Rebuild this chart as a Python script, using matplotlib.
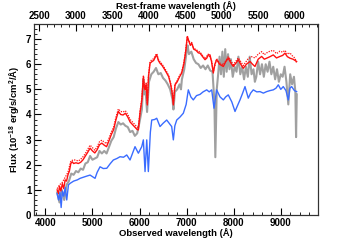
import matplotlib
matplotlib.use("Agg")
import matplotlib.pyplot as plt
from matplotlib.ticker import MultipleLocator

plt.rcParams['font.family'] = ['Liberation Sans', 'DejaVu Sans']
plt.rcParams['font.weight'] = 'bold'
plt.rcParams['mathtext.default'] = 'regular'

Z = 0.55

red_wave = [4250, 4280, 4300, 4330, 4360, 4390, 4420, 4450, 4480, 4510, 4540, 4570, 4600, 4650, 4700,
            4750, 4800, 4850, 4900, 4950, 5000, 5050, 5100, 5150, 5200, 5250, 5300, 5350, 5400, 5450,
            5500, 5550, 5600, 5650, 5700, 5750, 5800, 5850, 5900, 5950, 5975, 6010, 6050, 6083, 6100,
            6117, 6140, 6166, 6190, 6223, 6260, 6300, 6340, 6365, 6400, 6435, 6480, 6530, 6577, 6620,
            6660, 6690, 6718, 6740, 6754, 6800, 6850, 6896, 6940, 6980, 7015, 7050, 7080, 7108, 7150,
            7200, 7250, 7285, 7340, 7391, 7427, 7460, 7497, 7530, 7567, 7600, 7638, 7700, 7780, 7830,
            7885, 7940, 7991, 8050, 8098, 8150, 8204, 8270, 8346, 8400, 8452, 8520, 8594, 8650, 8700,
            8770, 8841, 8910, 8983, 9040, 9089, 9140, 9195, 9260, 9337]
red_flux = [1.00, 0.85, 1.15, 0.95, 1.25, 1.05, 1.40, 1.35, 1.60, 1.75, 2.05, 2.12, 2.05, 2.08, 2.05,
            2.10, 2.20, 2.35, 2.50, 2.66, 2.55, 2.47, 2.60, 2.80, 2.86, 2.78, 2.72, 2.95, 3.20, 3.40,
            3.80, 4.12, 4.00, 3.98, 4.05, 3.90, 3.70, 3.60, 3.50, 3.40, 3.39, 4.06, 4.60, 5.51, 5.10,
            4.98, 5.20, 4.38, 5.50, 6.04, 6.10, 6.15, 6.30, 6.37, 6.15, 6.04, 5.95, 5.80, 5.65, 5.50,
            5.20, 4.90, 4.38, 4.90, 5.18, 5.30, 5.50, 5.65, 6.00, 6.50, 7.10, 6.90, 6.75, 6.84, 6.60,
            6.55, 6.45, 6.44, 6.30, 6.18, 6.24, 6.37, 6.37, 6.10, 5.65, 6.00, 6.18, 6.00, 5.91, 6.10,
            6.24, 6.05, 5.91, 6.05, 6.18, 6.00, 5.84, 6.00, 6.11, 6.00, 5.91, 6.20, 6.31, 6.20, 6.24,
            6.30, 6.37, 6.25, 6.31, 6.35, 6.44, 6.30, 6.24, 6.20, 6.11]

dot_wave = [4250, 4300, 4360, 4420, 4480, 4540, 4600, 4650, 4700, 4750, 4800, 4850, 4900, 4950, 5000,
            5050, 5100, 5150, 5200, 5250, 5300, 5350, 5400, 5450, 5500, 5550, 5600, 5650, 5700, 5750,
            5800, 5850, 5900, 5950, 5975, 6010, 6050, 6083, 6100, 6117, 6140, 6166, 6190, 6223, 6260,
            6300, 6340, 6365, 6400, 6435, 6480, 6530, 6577, 6620, 6660, 6690, 6718, 6754, 6800, 6850,
            6896, 6940, 6980, 7015, 7050, 7108, 7150, 7200, 7285, 7391, 7460, 7530, 7567, 7638, 7700,
            7780, 7885, 7991, 8098, 8204, 8300, 8380, 8452, 8520, 8594, 8650, 8700, 8770, 8841, 8910,
            8983, 9040, 9089, 9140, 9195, 9260, 9300, 9337]
dot_flux = [1.05, 1.20, 1.30, 1.50, 1.70, 2.15, 2.20, 2.18, 2.15, 2.22, 2.32, 2.45, 2.62, 2.78, 2.68,
            2.58, 2.72, 2.92, 2.98, 2.90, 2.84, 3.05, 3.30, 3.50, 3.90, 4.22, 4.12, 4.10, 4.15, 4.00,
            3.80, 3.70, 3.60, 3.50, 3.48, 4.12, 4.65, 5.55, 5.15, 5.02, 5.25, 4.42, 5.55, 6.10, 6.18,
            6.22, 6.36, 6.42, 6.20, 6.10, 6.00, 5.85, 5.70, 5.55, 5.25, 4.95, 4.45, 5.22, 5.35, 5.55,
            5.70, 6.05, 6.55, 7.12, 6.92, 6.86, 6.64, 6.58, 6.48, 6.22, 6.40, 6.14, 5.70, 6.22, 6.05,
            5.98, 6.30, 5.98, 6.25, 5.95, 6.20, 6.30, 6.25, 6.40, 6.50, 6.38, 6.45, 6.52, 6.55, 6.42,
            6.52, 6.48, 6.55, 6.40, 6.45, 6.30, 6.25, 6.05]

blue_wave = [4250, 4280, 4310, 4335, 4360, 4390, 4420, 4454, 4490, 4525, 4600, 4680, 4737, 4800, 4880,
             4949, 5055, 5100, 5161, 5230, 5304, 5380, 5444, 5520, 5586, 5660, 5728, 5798, 5850, 5904,
             5975, 6047, 6081, 6117, 6153, 6187, 6230, 6259, 6320, 6365, 6435, 6500, 6577, 6630, 6683,
             6718, 6750, 6790, 6860, 6930, 6990, 7036, 7090, 7142, 7210, 7285, 7350, 7427, 7480, 7533,
             7582, 7638, 7710, 7780, 7830, 7885, 7960, 8028, 8080, 8134, 8190, 8240, 8310, 8360, 8416,
             8490, 8558, 8630, 8700, 8770, 8841, 8900, 8947, 9000, 9053, 9110, 9160, 9195, 9231, 9290,
             9337]
blue_flux = [0.85, 0.60, 0.90, 0.30, 0.95, 0.75, 1.10, 0.60, 1.20, 1.26, 1.35, 1.40, 1.46, 1.50, 1.55,
             1.59, 1.46, 1.70, 1.92, 1.85, 1.86, 2.05, 2.19, 2.25, 2.32, 2.30, 2.39, 2.19, 2.45, 2.72,
             2.46, 2.72, 2.99, 1.73, 2.99, 1.73, 3.30, 3.78, 3.80, 3.85, 3.52, 3.65, 3.78, 3.65, 3.52,
             2.99, 3.55, 3.78, 3.90, 4.05, 4.40, 4.98, 4.70, 4.58, 4.75, 4.80, 4.90, 4.98, 4.90, 4.98,
             4.25, 4.98, 4.70, 4.58, 4.70, 4.78, 4.50, 4.12, 4.35, 4.58, 4.85, 5.11, 4.65, 4.85, 4.98,
             4.90, 4.91, 4.85, 4.91, 4.95, 4.98, 5.05, 5.18, 5.00, 5.11, 4.95, 4.58, 5.05, 5.11, 4.95,
             4.91]

gray_wave = [4250, 4300, 4350, 4400, 4450, 4500, 4550, 4600, 4650, 4700, 4750, 4800, 4850, 4900, 4950,
             5000, 5050, 5100, 5150, 5200, 5250, 5300, 5350, 5400, 5450, 5500, 5550, 5600, 5650, 5700,
             5750, 5800, 5850, 5900, 5950, 6000, 6050, 6080, 6100, 6130, 6160, 6200, 6250, 6300, 6350,
             6400, 6450, 6500, 6550, 6600, 6650, 6700, 6720, 6750, 6800, 6850, 6880, 6900, 6950, 7000,
             7020, 7050, 7100, 7150, 7200, 7250, 7300, 7350, 7400, 7450, 7500, 7550, 7590, 7610, 7640,
             7670, 7700, 7730, 7760, 7790, 7820, 7850, 7880, 7910, 7940, 7980, 8020, 8060, 8100, 8140,
             8180, 8220, 8260, 8300, 8340, 8380, 8420, 8450, 8480, 8520, 8560, 8600, 8640, 8680, 8720,
             8760, 8800, 8840, 8880, 8920, 8960, 9000, 9040, 9080, 9120, 9160, 9200, 9240, 9280, 9310,
             9325, 9340]
gray_flux = [0.90, 0.50, 1.00, 0.60, 1.20, 1.35, 1.65, 1.60, 1.75, 1.70, 1.85, 1.80, 2.05, 2.10, 2.35,
             2.20, 2.25, 2.30, 2.55, 2.45, 2.55, 2.45, 2.70, 2.95, 3.10, 3.45, 3.70, 3.60, 3.65, 3.55,
             3.50, 3.30, 3.35, 3.15, 3.25, 3.70, 4.20, 5.40, 4.80, 4.90, 4.10, 5.30, 5.60, 5.70, 5.85,
             5.60, 5.65, 5.45, 5.35, 5.20, 5.00, 4.60, 4.20, 4.90, 5.00, 5.20, 5.00, 5.40, 5.80, 6.50,
             6.75, 6.40, 6.50, 6.20, 6.05, 6.00, 5.85, 5.95, 5.80, 5.95, 5.75, 5.70, 4.50, 2.30, 5.00,
             5.60, 6.30, 5.60, 6.50, 5.50, 6.60, 5.70, 6.40, 5.80, 6.20, 5.50, 5.90, 5.70, 6.30, 5.60,
             5.90, 5.40, 5.90, 5.50, 6.30, 5.60, 5.80, 5.30, 5.50, 6.10, 5.60, 6.00, 5.50, 6.00, 5.70,
             6.10, 5.60, 5.90, 5.40, 5.80, 5.30, 5.60, 5.50, 5.90, 5.30, 4.40, 5.60, 5.20, 5.50, 4.90,
             3.10, 4.80]

fig = plt.figure(figsize=(3.55, 2.40), dpi=100)
ax = fig.add_axes([0.096, 0.104, 0.801, 0.796])

ax.plot(gray_wave, gray_flux, color='#a0a0a0', lw=1.5, zorder=2)
ax.plot(red_wave, red_flux, color='#ff1010', lw=1.0, zorder=3)
ax.plot(dot_wave, dot_flux, color='#ff1010', lw=0.9, ls=(0, (1, 1)), zorder=3)
ax.plot(blue_wave, blue_flux, color='#3a6cff', lw=1.0, zorder=4)

ax.set_xlim(3760, 9800)
ax.set_ylim(0, 7.6)
ax.xaxis.set_major_locator(MultipleLocator(1000))
ax.xaxis.set_minor_locator(MultipleLocator(200))
ax.yaxis.set_major_locator(MultipleLocator(1))
ax.yaxis.set_minor_locator(MultipleLocator(0.2))
ax.tick_params(axis='both', which='major', direction='in', length=5, width=0.8,
               labelsize=7, pad=2, top=False, right=False)
ax.tick_params(axis='both', which='minor', direction='in', length=2.5, width=0.6,
               top=False, right=False)
for lab in ax.get_xticklabels() + ax.get_yticklabels():
    lab.set_fontweight('bold')
for s in ax.spines.values():
    s.set_linewidth(0.8)
    s.set_color('#333333')

ax.set_xlabel('Observed wavelength (Å)', fontsize=6.8, fontweight='bold', labelpad=0.5)
ax.set_ylabel('Flux (10$^{-18}$ erg/s/cm$^{2}$/Å)', fontsize=6.8, fontweight='bold', labelpad=3)

ax2 = ax.twiny()
ax2.set_xlim(3760 / (1 + Z), 9800 / (1 + Z))
ax2.xaxis.set_major_locator(MultipleLocator(500))
ax2.xaxis.set_minor_locator(MultipleLocator(100))
ax2.tick_params(axis='x', which='major', direction='in', length=5, width=0.8, labelsize=7, pad=2)
ax2.tick_params(axis='x', which='minor', direction='in', length=2.5, width=0.6)
for lab in ax2.get_xticklabels():
    lab.set_fontweight('bold')
ax2.set_xlabel('Rest-frame wavelength (Å)', fontsize=6.8, fontweight='bold', labelpad=1.5)
for s in ax2.spines.values():
    s.set_linewidth(0.8)
    s.set_color('#333333')

fig.savefig('out.png', dpi=100)
